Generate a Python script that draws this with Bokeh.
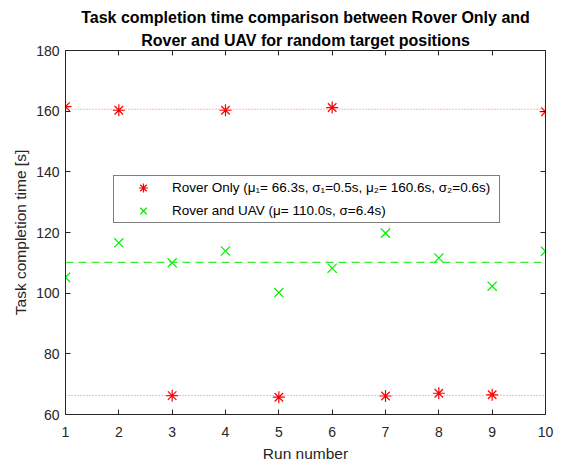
import numpy as np
from bokeh.plotting import figure
from bokeh.models import (ColumnDataSource, Span, Legend, LegendItem, LinearAxis,
                          FixedTicker, Title, Range1d)
from bokeh.embed import file_html
from bokeh.resources import INLINE

# ---- data ----
runs_rover_high = [1, 2, 4, 6, 10]
rover_high = [161.5, 160.3, 160.3, 161.2, 159.8]
runs_rover_low = [3, 5, 7, 8, 9]
rover_low = [66.2, 65.7, 66.1, 67.0, 66.5]
runs_uav = [1, 2, 3, 4, 5, 6, 7, 8, 9, 10]
uav = [105.2, 116.6, 110.0, 113.9, 100.2, 108.2, 119.8, 111.6, 102.3, 113.8]
x_ticks = [1, 2, 3, 4, 5, 6, 7, 8, 9, 10]
y_ticks = [60, 80, 100, 120, 140, 160, 180]

title_l1 = "Task completion time comparison between Rover Only and"
title_l2 = "Rover and UAV for random target positions"
rover_label = "Rover Only (\u03bc\u2081= 66.3s, \u03c3\u2081=0.5s, \u03bc\u2082= 160.6s, \u03c3\u2082=0.6s)"
uav_label = "Rover and UAV (\u03bc= 110.0s, \u03c3=6.4s)"

FONT = "Liberation Sans"
TXT = "#262626"

p = figure(width=564, height=464, output_backend="svg", toolbar_location=None,
           x_range=Range1d(1, 10), y_range=Range1d(60, 180),
           min_border_left=65, min_border_right=19, min_border_top=50, min_border_bottom=48)
p.title = None
p.grid.visible = False
p.outline_line_color = None

xax = p.below[0]
yax = p.left[0]

def style_axis(ax):
    ax.axis_line_color = TXT
    ax.major_tick_line_color = TXT
    ax.minor_tick_line_color = None
    ax.major_tick_in = 5
    ax.major_tick_out = 0
    ax.major_label_text_font = FONT
    ax.major_label_text_color = TXT
    ax.major_label_text_font_size = "14px"
    ax.axis_label_text_font = FONT
    ax.axis_label_text_font_size = "15.5px"
    ax.axis_label_text_font_style = "normal"
    ax.axis_label_text_color = TXT

xax.ticker = FixedTicker(ticks=x_ticks)
yax.ticker = FixedTicker(ticks=y_ticks)
xax.axis_label = "Run number"
yax.axis_label = "Task completion time [s]"
style_axis(xax)
style_axis(yax)
xax.major_label_standoff = 12
xax.axis_label_standoff = 5
yax.major_label_standoff = 6
yax.axis_label_standoff = 4

# top / right box axes: ticks only (as minor ticks, so no labels are drawn)
def box_axis(ticks, standoff=0):
    ax = LinearAxis(ticker=FixedTicker(ticks=[], minor_ticks=ticks))
    ax.axis_line_color = TXT
    ax.major_tick_line_color = None
    ax.minor_tick_line_color = TXT
    ax.minor_tick_in = 5
    ax.minor_tick_out = 0
    ax.major_label_standoff = standoff
    return ax

p.add_layout(box_axis(x_ticks, standoff=3), "above")
p.add_layout(box_axis(y_ticks), "right")

# titles
p.add_layout(Title(text=title_l2, align="center", text_font=FONT, text_font_size="16px",
                   text_font_style="bold", text_color="#000000", standoff=3), "above")
p.add_layout(Title(text=title_l1, align="center", text_font=FONT, text_font_size="16px",
                   text_font_style="bold", text_color="#000000", standoff=5), "above")

# mean lines
m_low = float(np.mean(rover_low))
m_high = float(np.mean(rover_high))
m_uav = float(np.mean(uav))
p.add_layout(Span(location=m_low, dimension="width", line_color="#ff3333",
                  line_dash="1 2", line_width=1, line_alpha=0.7))
p.add_layout(Span(location=m_high, dimension="width", line_color="#ff3333",
                  line_dash="1 2", line_width=1, line_alpha=0.7))
p.add_layout(Span(location=m_uav, dimension="width", line_color="#33ee33",
                  line_dash="8 5", line_width=1.3))

# markers
src_h = ColumnDataSource(dict(x=runs_rover_high, y=rover_high))
src_l = ColumnDataSource(dict(x=runs_rover_low, y=rover_low))
src_u = ColumnDataSource(dict(x=runs_uav, y=uav))
r1 = p.scatter("x", "y", source=src_h, marker="asterisk", size=12, line_color="#ff0000", line_width=1.2)
p.scatter("x", "y", source=src_l, marker="asterisk", size=12, line_color="#ff0000", line_width=1.2)
r2 = p.scatter("x", "y", source=src_u, marker="x", size=13, line_color="#00ee00", line_width=1.2)

legend = Legend(items=[LegendItem(label=rover_label, renderers=[r1]),
                       LegendItem(label=uav_label, renderers=[r2])],
                location=(48, 191), padding=0, glyph_width=58, glyph_height=23,
                label_height=23, label_width=327, spacing=0, label_standoff=0, margin=0,
                label_text_font=FONT, label_text_font_size="13.5px", label_text_color="#000000",
                border_line_color="#000000", border_line_width=1,
                background_fill_color="white", background_fill_alpha=1)
p.add_layout(legend, "center")

open("out.html", "w").write(file_html(p, INLINE))
